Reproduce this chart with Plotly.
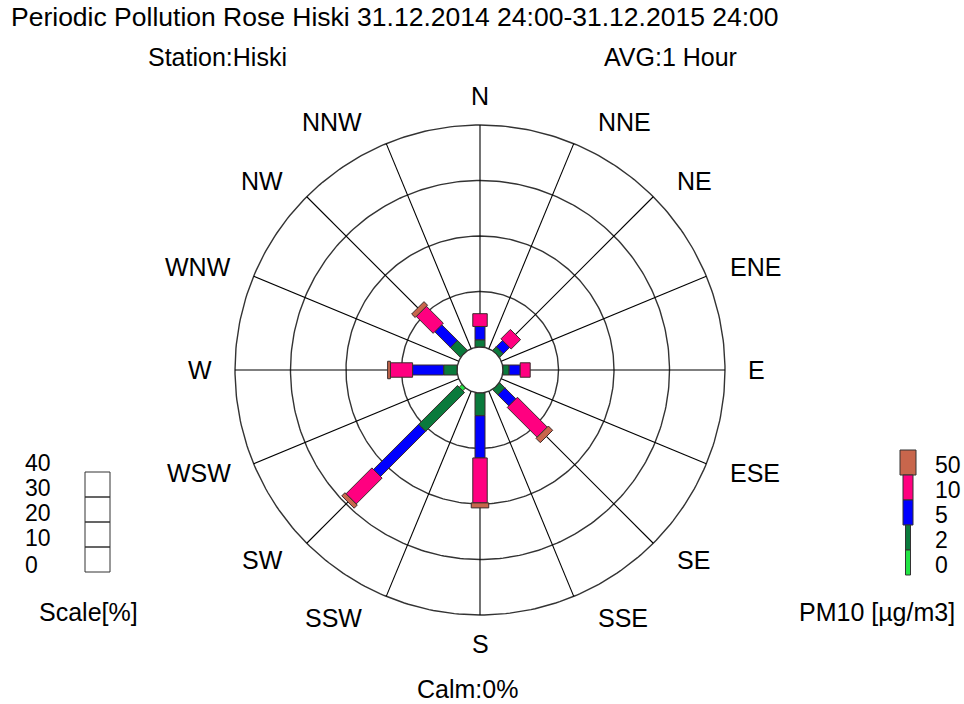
import math
import plotly.graph_objects as go

# ---------------- data ----------------
directions = ["N", "NNE", "NE", "ENE", "E", "ESE", "SE", "SSE",
              "S", "SSW", "SW", "WSW", "W", "WNW", "NW", "NNW"]
pm_classes = ["0-2", "2-5", "5-10", "10-50", ">50"]
legend_ticks = ["50", "10", "5", "2", "0"]
scale_ticks = ["40", "30", "20", "10", "0"]

# frequency [%] of each PM10 class per wind direction
pct_0_2 = [0, 0, 0, 0, 0, 0, 0, 0, 0, 0, 0.7, 0, 0, 0, 0, 0]
pct_2_5 = [1.3, 0, 0.9, 0, 1.1, 0, 1.3, 0, 4.1, 0, 9.9, 0, 2.4, 0, 2.5, 0]
pct_5_10 = [2.4, 0, 1.6, 0, 2.0, 0, 2.8, 0, 7.6, 0, 11.5, 0, 5.6, 0, 4.0, 0]
pct_10_50 = [2.3, 0, 2.4, 0, 1.8, 0, 7.6, 0, 8.1, 0, 6.6, 0, 4.0, 0, 4.3, 0]
pct_50 = [0, 0, 0, 0, 0, 0, 1.1, 0, 0.9, 0, 0.8, 0, 0.5, 0, 0.9, 0]
series = [pct_0_2, pct_2_5, pct_5_10, pct_10_50, pct_50]
rings = [10, 20, 30, 40]

# ---------------- style / layout ----------------
W, H = 964, 704
CX, CY = 480, 370          # centre of rose in pixels
PX = 5.55                  # pixels per 1 %
HOLE = 23 / PX             # calm circle radius in % units
colors = ["#22e444", "#0a7a3c", "#0000ff", "#ff0080", "#c8664c"]
bar_w = [0.9, 1.8, 1.8, 2.6, 3.15]   # bar widths in % units
FONT = "Liberation Sans, Arial, sans-serif"
FS = 25
FS_TICK = 23


def X(px):
    return (px - CX) / PX


def Y(py):
    return (CY - py) / PX


fig = go.Figure()

# rings
for r in [HOLE] + [HOLE + v for v in rings]:
    t = [2 * math.pi * i / 360 for i in range(361)]
    fig.add_trace(go.Scatter(
        x=[r * math.sin(a) for a in t], y=[r * math.cos(a) for a in t],
        mode="lines", line=dict(color="#333333", width=1.4),
        hoverinfo="skip", showlegend=False))

# spokes
outer = HOLE + rings[-1]
sx, sy = [], []
for i, d in enumerate(directions):
    a = math.radians(22.5 * i)
    sx += [HOLE * math.sin(a), outer * math.sin(a), None]
    sy += [HOLE * math.cos(a), outer * math.cos(a), None]
fig.add_trace(go.Scatter(x=sx, y=sy, mode="lines",
                         line=dict(color="#000000", width=1.1),
                         hoverinfo="skip", showlegend=False))

# stacked rectangular bars
for i, d in enumerate(directions):
    a = math.radians(22.5 * i)
    ux, uy = math.sin(a), math.cos(a)
    qx, qy = math.cos(a), -math.sin(a)
    cum = 0.0
    for k, s in enumerate(series):
        v = s[i]
        if v <= 0:
            continue
        r0 = HOLE + cum
        r1 = HOLE + cum + v
        cum += v
        hw = bar_w[k] / 2
        xs = [r0 * ux + hw * qx, r1 * ux + hw * qx, r1 * ux - hw * qx,
              r0 * ux - hw * qx, r0 * ux + hw * qx]
        ys = [r0 * uy + hw * qy, r1 * uy + hw * qy, r1 * uy - hw * qy,
              r0 * uy - hw * qy, r0 * uy + hw * qy]
        fig.add_trace(go.Scatter(
            x=xs, y=ys, mode="lines", fill="toself", fillcolor=colors[k],
            line=dict(color="#3a2a2a", width=1),
            name=f"{d} {pm_classes[k]}: {v}%", hoverinfo="name",
            showlegend=False))

annotations = []


def txt(text, px, py, xanchor="center", size=FS, height=None):
    a = dict(
        text=text, x=X(px), y=Y(py), xref="x", yref="y", showarrow=False,
        xanchor=xanchor, yanchor="middle",
        font=dict(family=FONT, size=size, color="#000000"))
    if height:
        a["height"] = height
    annotations.append(a)


# direction labels
for i, d in enumerate(directions):
    a = math.radians(22.5 * i)
    s, c = math.sin(a), math.cos(a)
    if abs(s) < 1e-6:
        txt(d, CX, CY - 274 * c)
    elif s > 0:
        txt(d, CX + 23 + 243 * s, CY - 268 * c, "left")
    else:
        txt(d, CX - 23 + 243 * s, CY - 268 * c, "right")

# titles
txt("Periodic Pollution Rose Hiski 31.12.2014 24:00-31.12.2015 24:00", 9, 17,
    "left", size=26.5)
txt("Station:Hiski", 217, 57)
txt("AVG:1 Hour", 670, 57)
txt("Calm:0%", 467, 689)
txt("Scale[%]", 88, 612)
txt("PM10 [µg/m3]", 877, 612)

shapes = []
# scale legend
for j in range(4):
    shapes.append(dict(type="rect", xref="x", yref="y",
                       x0=X(85), x1=X(110), y0=Y(472 + 25 * j), y1=Y(497 + 25 * j),
                       line=dict(color="#333333", width=1)))
for j, t in enumerate(scale_ticks):
    txt(t, 23, [463, 488, 513, 538, 565][j], "left", size=FS_TICK)

# PM10 legend
leg_w = [16, 10, 10, 5, 5]
for j, t in enumerate(legend_ticks):
    k = 4 - j
    cxp = 908
    shapes.append(dict(type="rect", xref="x", yref="y",
                       x0=X(cxp - leg_w[j] / 2), x1=X(cxp + leg_w[j] / 2),
                       y0=Y(450 + 25 * j), y1=Y(475 + 25 * j),
                       fillcolor=colors[k], line=dict(color="#333333", width=1)))
    txt(t, 933, [465, 490, 515, 540, 565][j], "left", size=FS_TICK)

fig.update_layout(
    width=W, height=H, margin=dict(l=0, r=0, t=0, b=0),
    paper_bgcolor="white", plot_bgcolor="white",
    xaxis=dict(range=[X(0), X(W)], visible=False, fixedrange=True),
    yaxis=dict(range=[Y(H), Y(0)], visible=False, fixedrange=True),
    annotations=annotations, shapes=shapes, showlegend=False,
)

fig.write_html("out.html", config={"displayModeBar": False},
               post_script="document.body.style.margin='0';")
